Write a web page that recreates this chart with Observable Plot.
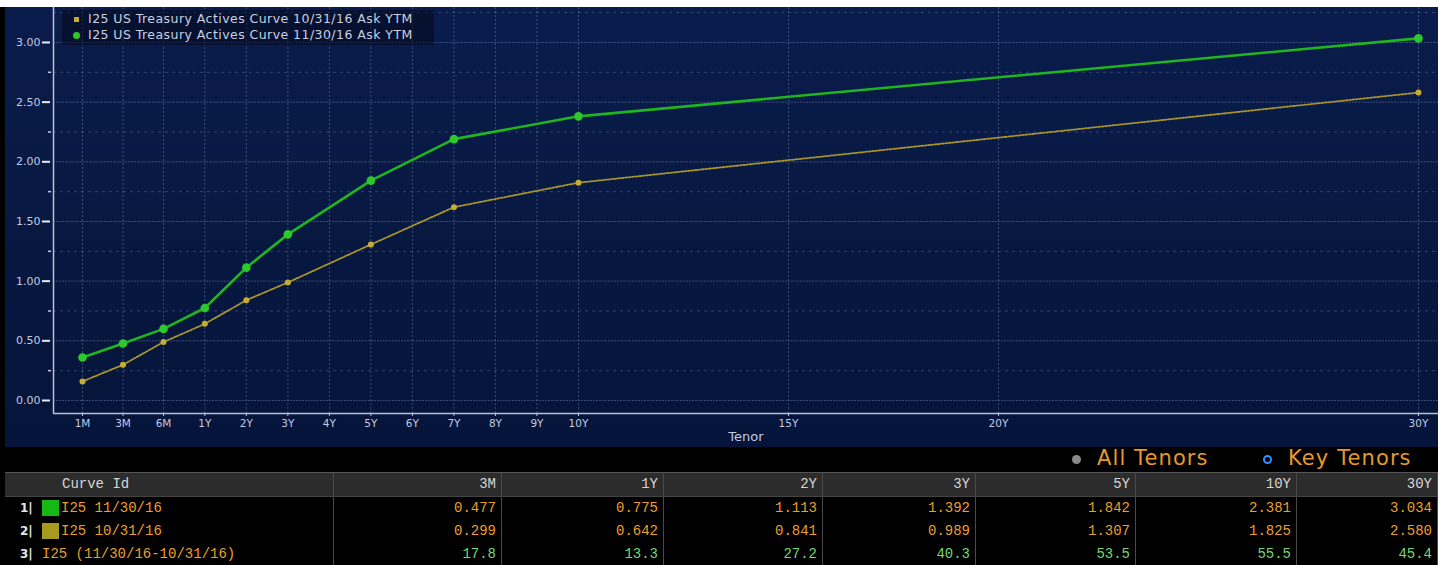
<!DOCTYPE html>
<html><head><meta charset="utf-8">
<script src="https://cdn.jsdelivr.net/npm/d3@7"></script>
<script src="https://cdn.jsdelivr.net/npm/@observablehq/plot@0.6"></script>
<style>
html,body{margin:0;padding:0}
body{width:1442px;height:565px;overflow:hidden;position:relative;background:#fff;font-family:"DejaVu Sans",sans-serif}
#panel{position:absolute;left:0;top:7px;width:1438px;height:558px;background:#000}
#chart{position:absolute;left:5px;top:0;width:1433px;height:440px;background:linear-gradient(180deg,#0a1c4c 0%,#071840 55%,#05143a 100%)}
#chart svg{position:absolute;left:0;top:0}
#legend{position:absolute;left:57px;top:3px;width:372px;height:35px;background:rgba(3,9,28,0.55);color:#c9d0e2;font-size:12.5px;letter-spacing:0.45px;line-height:16px;padding:1px 0 0 0;box-sizing:border-box}
#legend div{position:relative;padding-left:26px;white-space:nowrap}
#legend .mk{position:absolute;left:12px;top:6px;width:5px;height:5px}
#legend .mk.c{left:11px;top:5px;width:7px;height:7px;border-radius:50%}
#toggles{position:absolute;top:439px;left:0;width:1438px;height:26px;font-size:21px;letter-spacing:1.1px;color:#e39a2a}
#toggles span{position:absolute;top:0;white-space:nowrap}
#toggles .dot{position:absolute;top:9px;width:9px;height:9px;border-radius:50%;box-sizing:border-box}
#table{position:absolute;left:5px;top:465px;width:1433px;font-family:"Liberation Mono",monospace;font-size:14px}
.row{display:grid;grid-template-columns:329px 168px 162px 159px 153px 160px 161px 141px;height:23px;line-height:23px}
.row > div{border-right:1px solid #4a4a4a;text-align:right;padding-right:5px;white-space:nowrap;overflow:hidden}
.row > div:first-child{text-align:left;padding-right:0;position:relative}
.hdr{background:#2c2c2c;color:#d6d6d6;border-top:1px solid #555;border-bottom:1px solid #444}
.hdr > div:first-child{padding-left:57px}
.val{color:#eb9f2c}
.diff{color:#74d874}
.ico{position:absolute;left:15px;top:0;color:#e6e6e6;font-size:12px;font-weight:bold;font-family:"DejaVu Sans",sans-serif}
.sq{position:absolute;left:37px;top:3px;width:17px;height:16px}
</style>
</head><body>
<div id="panel">
  <div id="chart"><div id="legend"></div></div>
  <div id="toggles"></div>
  <div id="table"></div>
</div>
<script>
// ---------- data ----------
const tenorLabels = ["1M","3M","6M","1Y","2Y","3Y","5Y","7Y","10Y","30Y"];
const yieldNov = [0.36, 0.477, 0.60, 0.775, 1.113, 1.392, 1.842, 2.19, 2.381, 3.034];
const yieldOct = [0.16, 0.299, 0.49, 0.642, 0.841, 0.989, 1.307, 1.62, 1.825, 2.580];
const seriesNames = ["I25 US Treasury Actives Curve 10/31/16 Ask YTM", "I25 US Treasury Actives Curve 11/30/16 Ask YTM"];
const axisTickLabels = ["1M","3M","6M","1Y","2Y","3Y","4Y","5Y","6Y","7Y","8Y","9Y","10Y","15Y","20Y","30Y"];
const yMajorTicks = [0, 0.5, 1, 1.5, 2, 2.5, 3];
const yMinorTicks = [0.25, 0.75, 1.25, 1.75, 2.25, 2.75, 3.25];
const xTitle = "Tenor";
const toggleLabels = ["All Tenors", "Key Tenors"];
const tableHeader = "Curve Id";
const tableTenors = ["3M","1Y","2Y","3Y","5Y","10Y","30Y"];
const tableNov = ["0.477","0.775","1.113","1.392","1.842","2.381","3.034"];
const tableOct = ["0.299","0.642","0.841","0.989","1.307","1.825","2.580"];
const tableDiff = ["17.8","13.3","27.2","40.3","53.5","55.5","45.4"];
const rowLabels = ["I25 11/30/16", "I25 10/31/16", "I25 (11/30/16-10/31/16)"];
const rowIcons = ["1|", "2|", "3|"];

// ---------- tenor axis: month slots, then years ----------
const toYears = s => s.endsWith("M") ? +s.slice(0, -1) / 12 : +s.slice(0, -1);
const tenorPos = d3.scaleLinear().domain([1/12, 0.25, 0.5, 1, 10, 30]).range([0, 0.97, 1.94, 2.93, 11.88, 32]);
const data = tenorLabels.map((t, i) => ({pos: tenorPos(toYears(t)), nov: yieldNov[i], oct: yieldOct[i]}));
const tickPos = axisTickLabels.map(t => tenorPos(toYears(t)));
const labelByPos = new Map(tickPos.map((p, i) => [p, axisTickLabels[i]]));

const xDom = [-0.695, 32.48];
const yDom = [-0.109, 3.293];
const axisCol = "#b9c2d8";
const gridCol = "#8d9cc4";

const chart = Plot.plot({
  width: 1433, height: 440,
  marginLeft: 48, marginRight: 0, marginTop: 0, marginBottom: 34,
  x: {domain: xDom},
  y: {domain: yDom},
  style: {background: "transparent", color: "#c8d0e4", fontSize: "10px", fontFamily: "DejaVu Sans, sans-serif", overflow: "visible"},
  marks: [
    Plot.gridY(yMinorTicks, {stroke: gridCol, strokeOpacity: 0.32, strokeDasharray: "3,4"}),
    Plot.gridY(yMajorTicks, {stroke: gridCol, strokeOpacity: 0.38, strokeDasharray: "2,1"}),
    Plot.gridX(tickPos, {stroke: gridCol, strokeOpacity: 0.4, strokeDasharray: "2,2"}),
    Plot.ruleX([xDom[0]], {stroke: axisCol, strokeWidth: 1.5}),
    Plot.ruleY([yDom[0]], {stroke: axisCol, strokeWidth: 1.5}),
    Plot.axisY(yMajorTicks, {tickSize: 8, tickPadding: 2, dx: -3, tickFormat: d3.format(".2f"), stroke: "#e8ecf6", strokeWidth: 2, fontSize: 11, fill: "#c3cbe0", label: null}),
    Plot.axisY(yMinorTicks.filter(v => v < 3.2), {tickSize: 3, dx: -2, text: null, stroke: "#c3cbe0", strokeWidth: 1.5, label: null}),
    Plot.axisX(tickPos, {tickSize: 3, tickPadding: 3, tickFormat: p => labelByPos.get(p), stroke: axisCol, fontSize: 10.5, fill: "#c3cbe0", label: null}),
    Plot.text([xTitle], {frameAnchor: "bottom", dy: 27, fontSize: 13, fill: "#c3cbe0"}),
    Plot.line(data, {x: "pos", y: "oct", stroke: "#a8952c", strokeWidth: 1.8, strokeDasharray: "2,1.5"}),
    Plot.dot(data, {x: "pos", y: "oct", r: 3, fill: "#c5ad33"}),
    Plot.line(data, {x: "pos", y: "nov", stroke: "#20b520", strokeWidth: 2.6}),
    Plot.dot(data, {x: "pos", y: "nov", r: 4.3, fill: "#2cc82c"})
  ]
});
document.getElementById("chart").prepend(chart);

// legend
const legend = document.getElementById("legend");
const legendColors = ["#c5ad33", "#2cc82c"];
seriesNames.forEach((n, i) => {
  const d = document.createElement("div");
  d.innerHTML = `<span class="mk${i ? " c" : ""}" style="background:${legendColors[i]}"></span>${n}`;
  legend.appendChild(d);
});

// toggles
const tg = document.getElementById("toggles");
tg.innerHTML = `<span class="dot" style="left:1072px;background:#8a8a8a"></span><span style="left:1097px">${toggleLabels[0]}</span>
<span class="dot" style="left:1263px;border:2.5px solid #3b8cff"></span><span style="left:1288px">${toggleLabels[1]}</span>`;

// table
const tbl = document.getElementById("table");
let html = `<div class="row hdr"><div>${tableHeader}</div>${tableTenors.map(t => `<div>${t}</div>`).join("")}</div>`;
const rowsVals = [tableNov, tableOct, tableDiff];
const sqColors = ["#16b816", "#a89a1e", null];
rowLabels.forEach((lab, r) => {
  const cls = r === 2 ? "diff" : "val";
  const pad = sqColors[r] ? 56 : 37;
  html += `<div class="row"><div><span class="ico">${rowIcons[r]}</span>${sqColors[r] ? `<span class="sq" style="background:${sqColors[r]}"></span>` : ""}<span class="val" style="padding-left:${pad}px">${lab}</span></div>${rowsVals[r].map(v => `<div class="${cls}">${v}</div>`).join("")}</div>`;
});
tbl.innerHTML = html;
</script>
</body></html>
